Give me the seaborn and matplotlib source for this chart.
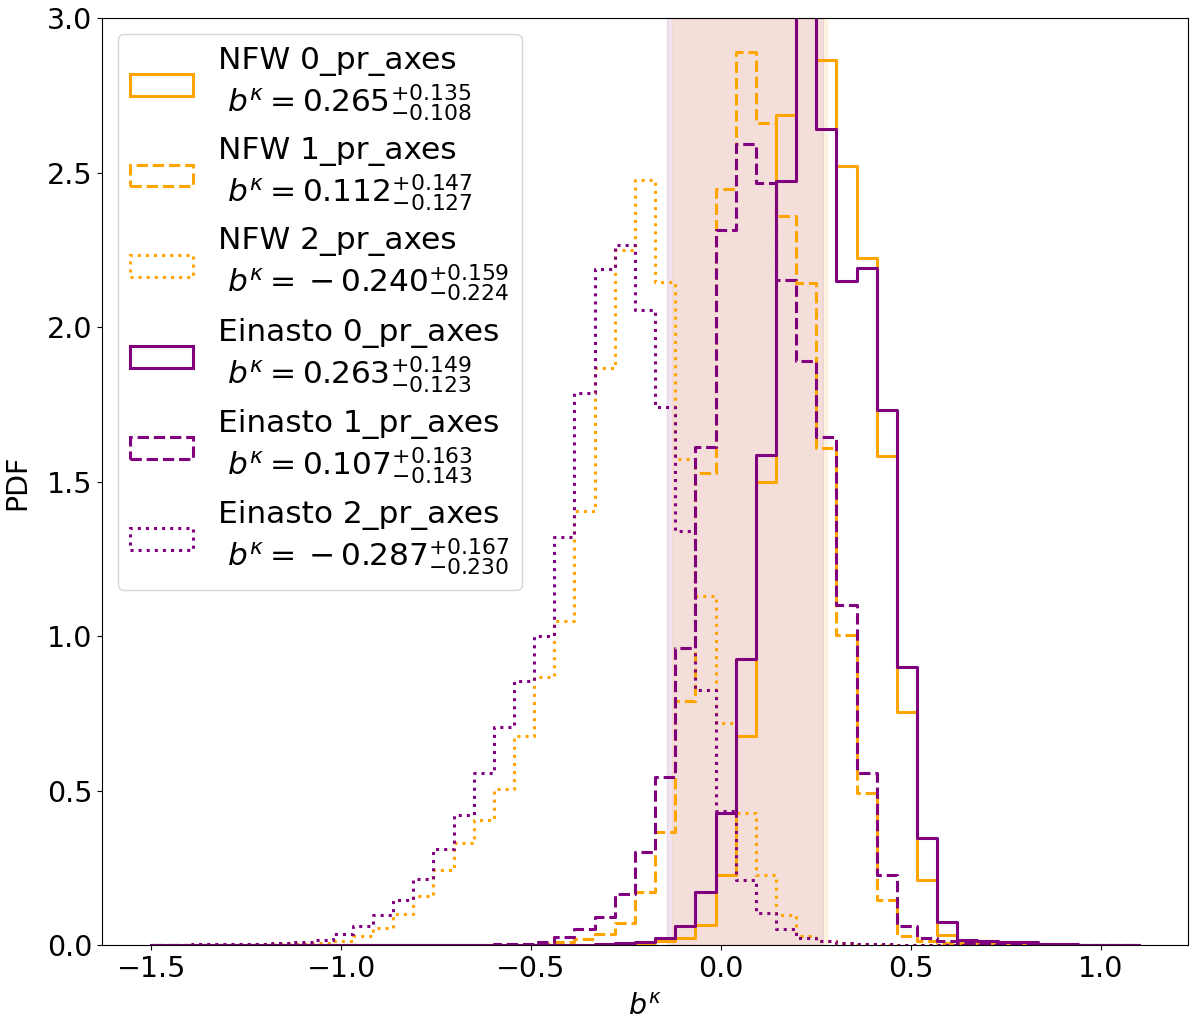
import numpy as np
import matplotlib
matplotlib.use("Agg")
import matplotlib.pyplot as plt
import matplotlib.patches as mpatches
import seaborn as sns

# common bin edges: 49 bins between -1.5 and 1.1
bin_edges = np.linspace(-1.5, 1.1, 50)
bin_centers = 0.5 * (bin_edges[:-1] + bin_edges[1:])

# PDF heights (one value per bin, bins 0..48)
nfw_0 = [0]*22 + [0.002, 0.004, 0.008, 0.013, 0.024, 0.067, 0.229, 0.676, 1.498, 2.687,
                  3.35, 2.867, 2.523, 2.223, 1.582, 0.755, 0.2125, 0.033, 0.010, 0.010,
                  0.012, 0.006, 0.004, 0.002, 0.002, 0.001, 0]
nfw_1 = [0]*13 + [0.001, 0.001, 0.002, 0.002, 0.003, 0.004, 0.005, 0.012, 0.020, 0.035,
                  0.072, 0.171, 0.365, 0.789, 1.528, 2.449, 2.891, 2.660, 2.360, 2.142,
                  1.609, 1.005, 0.493, 0.148, 0.030, 0.013, 0.006, 0.003] + [0]*8
nfw_2 = [0.001, 0.001, 0.001, 0.002, 0.002, 0.003, 0.004, 0.005, 0.007, 0.013,
         0.029, 0.056, 0.1025, 0.161, 0.245, 0.331, 0.4065, 0.506, 0.676, 0.868,
         1.051, 1.404, 1.867, 2.250, 2.476, 2.147, 1.573, 1.129, 0.719, 0.428,
         0.229, 0.099, 0.031, 0.013, 0.006, 0.003, 0.002, 0.001] + [0]*11
ein_0 = [0]*20 + [0.001, 0.002, 0.003, 0.006, 0.012, 0.024, 0.062, 0.173, 0.428, 0.926,
                  1.587, 2.473, 3.05, 2.643, 2.149, 2.191, 1.731, 0.900, 0.347, 0.076,
                  0.018, 0.015, 0.010, 0.010, 0.005, 0.003, 0.002, 0, 0]
ein_1 = [0.001]*17 + [0.003, 0.005, 0.012, 0.027, 0.051, 0.091, 0.167, 0.301, 0.543, 0.962,
                      1.614, 2.315, 2.595, 2.468, 2.153, 1.891, 1.646, 1.100, 0.557, 0.229,
                      0.062, 0.024, 0.013, 0.006, 0.003, 0.002] + [0]*6
ein_2 = [0.002, 0.002, 0.003, 0.003, 0.004, 0.005, 0.007, 0.009, 0.018, 0.036,
         0.061, 0.097, 0.146, 0.215, 0.310, 0.420, 0.557, 0.708, 0.856, 1.000,
         1.323, 1.787, 2.190, 2.266, 2.056, 1.741, 1.342, 0.827, 0.433, 0.2125,
         0.105, 0.051, 0.024, 0.013, 0.006, 0.004, 0.003, 0.002] + [0.001]*11

# legend text values
models = ["NFW", "NFW", "NFW", "Einasto", "Einasto", "Einasto"]
n_axes = [0, 1, 2, 0, 1, 2]
medians = [0.265, 0.112, -0.240, 0.263, 0.107, -0.287]
err_up = [0.135, 0.147, 0.159, 0.149, 0.163, 0.167]
err_lo = [0.108, 0.127, 0.224, 0.123, 0.143, 0.230]
colors = ["orange", "orange", "orange", "purple", "purple", "purple"]
styles = ["-", "--", ":", "-", "--", ":"]
heights = [nfw_0, nfw_1, nfw_2, ein_0, ein_1, ein_2]

# shaded bands
band_purple = (-0.141, 0.270)
band_orange = (-0.130, 0.280)


def fmt_median(m):
    # the original shows a binary-spaced minus; an empty group forces that
    if m < 0:
        return "{}" + f"-{abs(m):.3f}"
    return f"{m:.3f}"


fig, ax = plt.subplots(figsize=(12, 10.23), dpi=100)
fig.subplots_adjust(left=0.085, right=0.99, top=0.982, bottom=0.076)

ax.axvspan(*band_purple, color="purple", alpha=0.1, zorder=0)
ax.axvspan(*band_orange, color="orange", alpha=0.1, zorder=0)

handles = []
labels = []
for i in range(6):
    # seaborn compares bins to "auto", so hand it a plain list
    sns.histplot(x=bin_centers, weights=np.array(heights[i]), bins=list(bin_edges),
                 element="step", fill=False, color=colors[i], linestyle=styles[i],
                 linewidth=2.2, ax=ax)
    handles.append(mpatches.Patch(facecolor="none", edgecolor=colors[i],
                                  linestyle=styles[i], linewidth=2.2))
    labels.append(f"{models[i]} {n_axes[i]}_pr_axes\n"
                  f" $b^\\kappa = {fmt_median(medians[i])}"
                  f"^{{+{err_up[i]:.3f}}}_{{-{err_lo[i]:.3f}}}$")

ax.set_xlim(-1.63, 1.23)
ax.set_ylim(0, 3.0)
ax.set_xlabel(r"$b^\kappa$", fontsize=20.5, labelpad=7)
ax.set_ylabel("PDF", fontsize=20.5, labelpad=11)
ax.tick_params(labelsize=20.5)
ax.legend(handles, labels, loc="upper left", fontsize=22.5, labelspacing=0.46)

fig.savefig("out.png", dpi=100)
